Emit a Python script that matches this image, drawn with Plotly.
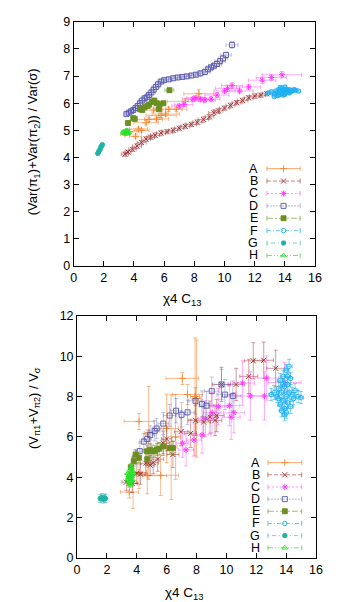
import plotly.graph_objects as go

W, H = 349, 602
labels = ["A", "B", "C", "D", "E", "F", "G", "H"]

# ---------------- top panel data ----------------
A1_x = [3.4, 3.7, 4.1, 4.3, 4.8, 5.0, 5.5, 5.8, 6.1, 6.3, 6.8, 7.4, 8.3, 5.3, 4.5]
A1_y = [4.87, 4.95, 4.78, 5.05, 5.28, 5.4, 5.42, 5.55, 5.6, 5.78, 5.78, 6.07, 6.35, 5.75, 5.0]
A1_ex = [0.3, 0.5, 0.4, 0.6, 0.8, 0.9, 0.8, 1.0, 0.9, 0.9, 0.7, 1.2, 1.0, 0.6, 0.5]
A1_ey = [0.05, 0.08, 0.06, 0.07, 0.08, 0.08, 0.07, 0.08, 0.07, 0.08, 0.08, 0.1, 0.15, 0.07, 0.06]

B1_x = [3.4, 3.6, 3.9, 4.2, 4.5, 4.8, 5.1, 5.4, 5.8, 6.2, 6.6, 7.0, 7.4, 7.8, 8.2, 8.6, 9.0, 9.3, 9.6, 10.0, 10.4, 10.8, 11.2, 11.6, 12.0, 12.4, 12.8]
B1_y = [4.12, 4.2, 4.3, 4.42, 4.55, 4.68, 4.75, 4.82, 4.9, 4.95, 5.0, 5.08, 5.15, 5.22, 5.3, 5.4, 5.5, 5.65, 5.72, 5.82, 5.92, 6.02, 6.1, 6.2, 6.26, 6.3, 6.35]
B1_ex = [0.25, 0.2, 0.25, 0.3, 0.3, 0.3, 0.25, 0.3, 0.3, 0.35, 0.3, 0.3, 0.3, 0.35, 0.3, 0.35, 0.3, 0.35, 0.3, 0.35, 0.3, 0.3, 0.35, 0.3, 0.35, 0.3, 0.3]
B1_ey = [0.08, 0.07, 0.08, 0.09, 0.08, 0.09, 0.08, 0.09, 0.1, 0.08, 0.09, 0.08, 0.09, 0.08, 0.09, 0.1, 0.09, 0.1, 0.09, 0.08, 0.09, 0.08, 0.09, 0.08, 0.09, 0.08, 0.08]

C1_x = [7.0, 7.3, 7.9, 8.1, 8.4, 8.7, 9.1, 9.5, 10.0, 10.2, 10.5, 11.0, 11.6, 12.5, 13.1, 13.8]
C1_y = [5.9, 5.95, 6.15, 6.2, 6.15, 6.12, 6.15, 6.3, 6.45, 6.55, 6.65, 6.45, 6.6, 6.85, 6.95, 7.05]
C1_ex = [0.5, 0.6, 0.7, 0.6, 0.8, 0.7, 0.6, 0.8, 0.7, 0.8, 0.7, 0.9, 0.8, 0.9, 1.0, 1.3]
C1_ey = [0.08, 0.07, 0.1, 0.08, 0.09, 0.08, 0.1, 0.09, 0.1, 0.12, 0.1, 0.1, 0.1, 0.12, 0.1, 0.12]

D1_x = [3.5, 3.65, 3.8, 3.95, 4.1, 4.25, 4.4, 4.55, 4.7, 4.85, 5.0, 5.15, 5.3, 5.45, 5.6, 5.8, 6.0, 6.3, 6.6, 6.9, 7.2, 7.5, 7.8, 8.1, 8.4, 8.7, 8.9, 9.1, 9.3, 9.5, 9.7, 9.9, 10.1, 10.5]
D1_y = [5.6, 5.65, 5.7, 5.75, 5.82, 5.9, 6.0, 6.1, 6.18, 6.22, 6.3, 6.4, 6.5, 6.6, 6.7, 6.8, 6.85, 6.88, 6.92, 6.95, 6.97, 6.99, 7.02, 7.05, 7.1, 7.15, 7.25, 7.32, 7.38, 7.45, 7.55, 7.65, 7.78, 8.15]
D1_ex = [0.15, 0.15, 0.2, 0.15, 0.2, 0.2, 0.2, 0.25, 0.2, 0.25, 0.2, 0.25, 0.2, 0.25, 0.2, 0.25, 0.3, 0.25, 0.3, 0.25, 0.3, 0.25, 0.3, 0.3, 0.3, 0.35, 0.3, 0.3, 0.35, 0.3, 0.35, 0.3, 0.35, 0.4]
D1_ey = [0.06, 0.06, 0.07, 0.06, 0.07, 0.07, 0.08, 0.07, 0.08, 0.07, 0.08, 0.07, 0.08, 0.08, 0.08, 0.07, 0.08, 0.07, 0.08, 0.07, 0.08, 0.07, 0.08, 0.08, 0.09, 0.08, 0.09, 0.1, 0.09, 0.1, 0.1, 0.1, 0.1, 0.12]

E1_x = [3.6, 3.95, 4.05, 4.4, 4.55, 4.7, 4.9, 5.0, 5.2, 5.35, 5.5, 5.7, 5.95, 6.35, 5.65]
E1_y = [5.27, 5.45, 5.42, 5.78, 5.75, 5.85, 5.9, 5.95, 6.05, 6.1, 6.0, 5.95, 6.0, 6.48, 5.78]
E1_ex = [0.08, 0.1, 0.1, 0.1, 0.1, 0.1, 0.12, 0.1, 0.12, 0.1, 0.12, 0.1, 0.12, 0.3, 0.15]
E1_ey = [0.04, 0.05, 0.05, 0.05, 0.05, 0.05, 0.06, 0.05, 0.06, 0.05, 0.06, 0.05, 0.06, 0.06, 0.3]

F1_x = [12.9, 13.1, 13.3, 13.4, 13.5, 13.6, 13.6, 13.7, 13.8, 13.8, 13.9, 13.9, 14.0, 14.0, 14.1, 14.1, 14.2, 14.2, 14.3, 14.4, 14.5, 14.6, 14.7, 14.9, 13.5, 13.7, 14.0, 14.3, 13.3, 13.9]
F1_y = [6.38, 6.42, 6.35, 6.45, 6.4, 6.5, 6.3, 6.42, 6.55, 6.36, 6.48, 6.4, 6.6, 6.33, 6.45, 6.52, 6.4, 6.47, 6.5, 6.44, 6.46, 6.5, 6.48, 6.45, 6.28, 6.58, 6.43, 6.38, 6.25, 6.3]
F1_ex = [0.1, 0.12, 0.1, 0.12, 0.1, 0.12, 0.1, 0.12, 0.1, 0.12, 0.1, 0.12, 0.1, 0.12, 0.1, 0.12, 0.1, 0.12, 0.1, 0.12, 0.1, 0.12, 0.1, 0.15, 0.1, 0.12, 0.1, 0.12, 0.1, 0.1]
F1_ey = [0.05] * 30

G1_x = [1.6, 1.65, 1.7, 1.75, 1.8, 1.85, 1.9]
G1_y = [4.15, 4.2, 4.25, 4.3, 4.38, 4.42, 4.47]
G1_ex = [0.04] * 7
G1_ey = [0.03] * 7

H1_x = [3.3, 3.4, 3.45, 3.5, 3.55, 3.6, 3.65, 3.4, 3.5, 3.35, 3.58]
H1_y = [4.95, 4.92, 4.97, 4.9, 4.95, 4.88, 4.93, 4.88, 5.0, 4.9, 4.98]
H1_ex = [0.06] * 11
H1_ey = [0.04] * 11

# ---------------- bottom panel data ----------------
A2_x = [3.5, 3.75, 4.15, 4.7, 4.8, 4.15, 5.6, 6.0, 6.3, 6.6, 7.05, 7.4, 7.9, 8.0]
A2_y = [3.27, 3.7, 4.24, 4.08, 6.2, 6.77, 4.1, 6.42, 5.5, 6.0, 8.9, 8.1, 8.0, 7.9]
A2_ex = [0.6, 0.3, 0.5, 1.3, 0.3, 1.0, 1.2, 0.8, 0.4, 0.3, 1.1, 1.0, 0.3, 0.3]
A2_ey = [0.3, 1.25, 0.8, 0.9, 2.3, 0.4, 1.0, 1.7, 2.6, 2.1, 0.3, 0.5, 2.9, 2.9]

B2_x = [3.3, 3.7, 4.0, 4.25, 4.6, 4.9, 5.1, 5.4, 5.77, 6.0, 6.42, 6.96, 7.61, 7.93, 8.48, 8.9, 9.24, 9.35, 9.67, 10.65, 11.5, 11.8, 12.5, 13.3]
B2_y = [3.76, 3.7, 4.2, 4.16, 4.7, 4.6, 4.73, 4.9, 5.69, 5.9, 5.13, 6.26, 6.18, 6.82, 6.74, 6.98, 6.82, 7.06, 8.6, 8.6, 9.0, 9.77, 9.8, 9.4]
B2_ex = [0.3, 0.3, 0.35, 0.3, 0.35, 0.3, 0.35, 0.4, 0.4, 0.35, 0.4, 0.45, 0.4, 0.5, 0.45, 0.5, 0.45, 0.5, 0.6, 0.55, 0.6, 0.6, 0.65, 0.6]
B2_ey = [0.4, 0.45, 0.5, 0.5, 0.55, 0.5, 0.55, 0.6, 0.6, 0.6, 0.65, 0.7, 0.7, 0.75, 0.7, 0.8, 0.75, 0.8, 0.85, 0.8, 0.85, 0.9, 0.9, 0.9]

C2_x = [7.07, 7.3, 7.83, 8.37, 8.6, 9.04, 9.45, 10.2, 10.32, 10.5, 11.08, 11.6, 12.55, 12.7, 13.9]
C2_y = [5.69, 5.36, 5.85, 6.1, 6.9, 7.2, 7.5, 7.55, 6.98, 7.2, 8.67, 8.03, 8.03, 8.92, 8.7]
C2_ex = [0.4, 0.5, 0.5, 0.6, 0.5, 0.6, 0.6, 0.7, 0.6, 0.7, 0.8, 0.9, 0.9, 0.8, 1.1]
C2_ey = [0.7, 0.8, 0.8, 0.9, 0.9, 1.0, 0.9, 1.0, 1.1, 1.0, 1.1, 1.2, 1.2, 1.1, 1.0]

D2_x = [3.92, 4.2, 4.47, 4.7, 4.9, 5.2, 5.33, 5.77, 6.2, 6.63, 7.0, 7.4, 7.93, 8.37, 8.67, 9.02, 9.67, 9.9, 10.43]
D2_y = [4.97, 5.3, 5.77, 5.9, 6.1, 6.3, 6.42, 6.66, 7.06, 7.3, 7.1, 7.22, 7.79, 7.63, 7.55, 8.27, 8.6, 8.1, 8.03]
D2_ex = [0.25, 0.25, 0.3, 0.3, 0.3, 0.35, 0.3, 0.35, 0.4, 0.4, 0.4, 0.45, 0.45, 0.45, 0.5, 0.5, 0.5, 0.55, 0.55]
D2_ey = [0.35, 0.4, 0.4, 0.45, 0.45, 0.5, 0.5, 0.55, 0.55, 0.6, 0.6, 0.6, 0.65, 0.65, 0.7, 0.7, 0.75, 0.75, 0.75]

E2_x = [3.6, 3.8, 3.92, 4.14, 4.7, 4.68, 4.9, 5.2, 5.5, 5.77, 6.2, 6.42, 5.0, 5.35]
E2_y = [4.5, 4.8, 5.13, 4.97, 4.9, 5.29, 5.37, 5.29, 5.42, 5.53, 5.45, 5.45, 5.3, 5.38]
E2_ex = [0.08, 0.1, 0.1, 0.1, 0.1, 0.12, 0.12, 0.12, 0.12, 0.12, 0.12, 0.15, 0.12, 0.12]
E2_ey = [0.2, 0.25, 0.25, 0.25, 0.3, 0.3, 0.3, 0.3, 0.3, 0.35, 0.3, 0.35, 0.3, 0.3]

F2_x = [13.0, 13.2, 13.4, 13.5, 13.6, 13.6, 13.7, 13.7, 13.8, 13.8, 13.9, 13.9, 14.0, 14.0, 14.0, 14.1, 14.1, 14.2, 14.2, 14.3, 14.3, 14.4, 14.5, 14.6, 14.8, 15.0, 13.5, 13.8, 14.1, 13.9]
F2_y = [8.1, 8.2, 8.0, 8.4, 7.6, 8.8, 7.3, 8.2, 9.0, 7.8, 8.5, 7.4, 9.3, 8.0, 7.2, 8.6, 7.7, 9.5, 8.2, 7.5, 8.9, 8.1, 7.9, 8.3, 8.0, 7.95, 7.9, 8.6, 9.0, 7.1]
F2_ex = [0.15, 0.2, 0.15, 0.2, 0.15, 0.2, 0.15, 0.2, 0.15, 0.2, 0.15, 0.2, 0.15, 0.2, 0.15, 0.2, 0.15, 0.2, 0.15, 0.2, 0.15, 0.2, 0.15, 0.2, 0.15, 0.15, 0.2, 0.15, 0.2, 0.15]
F2_ey = [0.3, 0.35, 0.3, 0.35, 0.3, 0.35, 0.3, 0.35, 0.3, 0.35, 0.3, 0.35, 0.3, 0.35, 0.3, 0.35, 0.3, 0.35, 0.3, 0.35, 0.3, 0.35, 0.3, 0.35, 0.3, 0.3, 0.35, 0.3, 0.35, 0.3]

G2_x = [1.55, 1.65, 1.75, 1.85, 1.9]
G2_y = [2.95, 3.0, 2.92, 2.98, 2.95]
G2_ex = [0.05] * 5
G2_ey = [0.2] * 5

H2_x = [3.4, 3.5, 3.5, 3.6, 3.6, 3.55, 3.65, 3.45, 3.7, 3.6, 3.5, 3.4, 3.55, 3.65, 3.75]
H2_y = [3.9, 4.1, 3.8, 4.3, 3.7, 4.0, 4.5, 4.0, 3.9, 4.15, 3.65, 4.2, 3.85, 4.05, 4.2]
H2_ex = [0.08] * 15
H2_ey = [0.15] * 15

top_data = [(A1_x, A1_y, A1_ex, A1_ey), (B1_x, B1_y, B1_ex, B1_ey), (C1_x, C1_y, C1_ex, C1_ey),
            (D1_x, D1_y, D1_ex, D1_ey), (E1_x, E1_y, E1_ex, E1_ey), (F1_x, F1_y, F1_ex, F1_ey),
            (G1_x, G1_y, G1_ex, G1_ey), (H1_x, H1_y, H1_ex, H1_ey)]
bot_data = [(A2_x, A2_y, A2_ex, A2_ey), (B2_x, B2_y, B2_ex, B2_ey), (C2_x, C2_y, C2_ex, C2_ey),
            (D2_x, D2_y, D2_ex, D2_ey), (E2_x, E2_y, E2_ex, E2_ey), (F2_x, F2_y, F2_ex, F2_ey),
            (G2_x, G2_y, G2_ex, G2_ey), (H2_x, H2_y, H2_ex, H2_ey)]

# ---------------- styles ----------------
mcolors = ["#f2862e", "#9c2b2b", "#ff30ff", "#5656a8", "#6b8e23", "#1cb0f0", "#20b2a6", "#2ee02e"]
ecolors = ["rgba(245,140,60,0.75)", "rgba(160,50,50,0.6)", "rgba(255,80,255,0.6)", "rgba(110,110,190,0.5)",
           "rgba(107,142,35,0.6)", "rgba(40,180,240,0.75)", "rgba(32,178,166,0.6)", "rgba(50,230,50,0.75)"]
symbols = ["cross-thin-open", "x-thin-open", "asterisk-open", "square-open", "square", "circle-open", "circle", "triangle-up-open"]
msizes = [5, 5, 5, 5, 5, 4.5, 4.5, 5]
dashes = ["solid", "4px,2px", "2px,2px", "2px,1px", "6px,2px,2px,2px", "4px,2px,1px,2px", "1px,3px,4px,3px", "5px,2px,1px,2px,1px,2px"]

fig = go.Figure()

def add_series(data, xa, ya):
    for i, (x, y, ex, ey) in enumerate(data):
        fig.add_trace(go.Scatter(
            x=x, y=y, mode="markers", xaxis=xa, yaxis=ya, showlegend=False, name=labels[i],
            marker=dict(symbol=symbols[i], size=msizes[i], color=mcolors[i],
                        line=dict(color=mcolors[i], width=0.9)),
            error_x=dict(type="data", array=ex, color=ecolors[i], thickness=0.8, width=2),
            error_y=dict(type="data", array=ey, color=ecolors[i], thickness=0.8, width=2),
        ))

add_series(top_data, "x", "y")
add_series(bot_data, "x2", "y2")

# ---------------- manual legends (pixel coordinate overlay axis) ----------------
def add_legend(y0, dy, xl0, xl1, xtext):
    for i in range(8):
        yy = y0 + i * dy
        fig.add_trace(go.Scatter(x=[xl0, xl1], y=[yy, yy], mode="lines", xaxis="x3", yaxis="y3",
                                 showlegend=False, hoverinfo="skip",
                                 line=dict(color=ecolors[i], width=1, dash=dashes[i])))
        for xc in (xl0, xl1):
            fig.add_trace(go.Scatter(x=[xc, xc], y=[yy - 2.5, yy + 2.5], mode="lines", xaxis="x3", yaxis="y3",
                                     showlegend=False, hoverinfo="skip",
                                     line=dict(color=ecolors[i], width=1)))
        fig.add_trace(go.Scatter(x=[(xl0 + xl1) / 2], y=[yy], mode="markers", xaxis="x3", yaxis="y3",
                                 showlegend=False, hoverinfo="skip",
                                 marker=dict(symbol=symbols[i], size=msizes[i], color=mcolors[i],
                                             line=dict(color=mcolors[i], width=0.9))))
        fig.add_annotation(x=xtext, y=yy, xref="x3", yref="y3", text=labels[i], showarrow=False,
                           xanchor="right", yanchor="middle", font=dict(size=12.5, color="black"))

add_legend(157.3, 12.7, 263.5, 297.7, 256.5)
add_legend(458.3, 12.45, 264.5, 299.3, 258.5)

font = "Liberation Sans, Arial, sans-serif"
axis_common = dict(showline=True, linecolor="black", linewidth=1, mirror="ticks", ticks="inside",
                   ticklen=5, tickcolor="black", showgrid=False, zeroline=False,
                   tickfont=dict(size=12.5, color="black"), fixedrange=True)

fig.update_layout(
    width=W, height=H, margin=dict(l=0, r=0, t=0, b=0),
    paper_bgcolor="white", plot_bgcolor="rgba(0,0,0,0)",
    font=dict(family=font, color="black"),
    xaxis=dict(domain=[64.5 / W, 313 / W], range=[0, 16], dtick=2, anchor="y", **axis_common),
    yaxis=dict(domain=[1 - 257 / H, 1 - 7 / H], range=[0, 9], dtick=1, anchor="x", **axis_common),
    xaxis2=dict(domain=[68 / W, 314 / W], range=[0, 16], dtick=2, anchor="y2", **axis_common),
    yaxis2=dict(domain=[1 - 556 / H, 1 - 308 / H], range=[0, 12], dtick=2, anchor="x2", **axis_common),
    xaxis3=dict(domain=[0, 1], range=[0, W], visible=False, fixedrange=True, anchor="y3"),
    yaxis3=dict(domain=[0, 1], range=[H, 0], visible=False, fixedrange=True, anchor="x3"),
    showlegend=False,
)

# axis titles
def title(px, py, text, angle=0, size=13):
    fig.add_annotation(x=px / W, y=1 - py / H, xref="paper", yref="paper", showarrow=False,
                       xanchor="center", yanchor="middle", textangle=angle,
                       text=text, font=dict(size=size))

title(177, 291, "χ4 C<sub>13</sub>", size=13.5)
title(179, 592, "χ4 C<sub>13</sub>", size=13.5)
title(24, 130, "(Var(π<sub>1</sub>)+Var(π<sub>2</sub>)) / Var(σ)", -90)
title(24, 402, "(V<sub>π1</sub>+V<sub>π2</sub>) / V<sub>σ</sub>", -90)

fig.write_html("out.html")
